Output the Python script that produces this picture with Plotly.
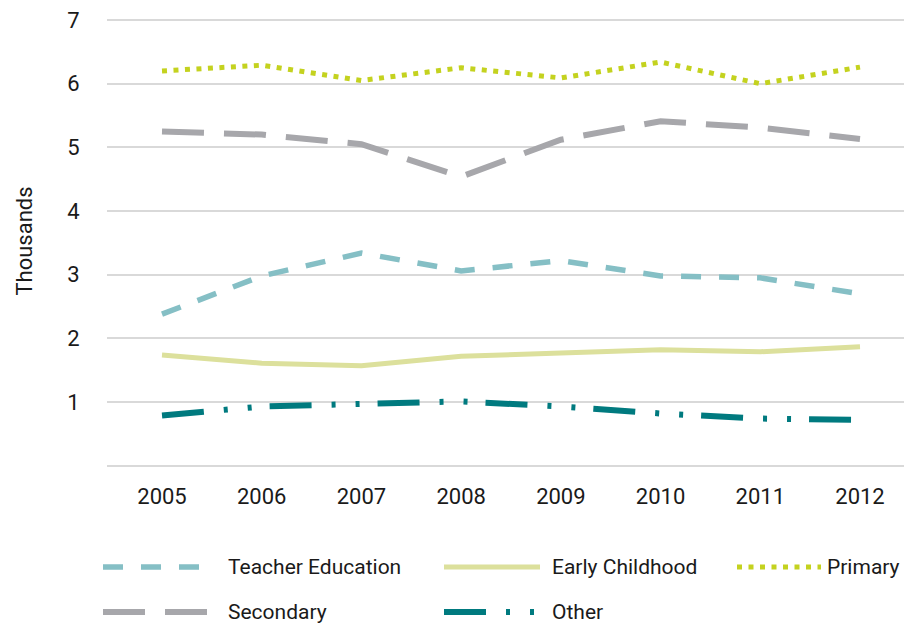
import plotly.graph_objects as go

years = [2005, 2006, 2007, 2008, 2009, 2010, 2011, 2012]
teacher_education = [2.38, 2.98, 3.34, 3.06, 3.22, 2.98, 2.95, 2.70]
early_childhood = [1.74, 1.61, 1.57, 1.72, 1.77, 1.82, 1.79, 1.87]
primary = [6.20, 6.29, 6.05, 6.25, 6.09, 6.34, 6.00, 6.26]
secondary = [5.25, 5.20, 5.05, 4.54, 5.12, 5.41, 5.31, 5.13]
other = [0.79, 0.93, 0.97, 1.01, 0.93, 0.82, 0.74, 0.72]

y_ticks = [0, 1, 2, 3, 4, 5, 6, 7]
y_labels = ["", "1", "2", "3", "4", "5", "6", "7"]
FONT = "Roboto, sans-serif"
FS = 22
LFS = 21

series = [
    ("Teacher Education", teacher_education, "#85BFC5", 5.5, "20px,18px"),
    ("Early Childhood", early_childhood, "#DCE09C", 5, "solid"),
    ("Primary", primary, "#C4D21F", 5, "5px,6.5px"),
    ("Secondary", secondary, "#A7A7AB", 6, "42px,20px"),
    ("Other", other, "#007A7F", 6, "42px,20px,4px,20px,4px,18px"),
]

fig = go.Figure()
for name, vals, color, w, dash in series:
    fig.add_trace(go.Scatter(x=years, y=vals, name=name, mode="lines",
                             line=dict(color=color, width=w, dash=dash),
                             showlegend=False))

# page has an 8px body margin; compensate
OFF = 8
W, H = 912 - 2 * OFF, 627 - OFF
PL, PR, PT, PB = 107, 904, 14, 468       # plot area in page pixels
Y7, Y0 = 20, 465.7                       # page y of 7 and 0
X05, X12 = 162, 860                      # page x of 2005 and 2012
UNIT = (Y0 - Y7) / 7.0
XU = (X12 - X05) / 7.0
yr = [-(PB - Y0) / UNIT, 7 + (Y7 - PT) / UNIT]
xr = [2005 - (X05 - PL) / XU, 2012 + (PR - X12) / XU]
L = PL - OFF
T = PT - OFF
R = (OFF + W) - PR
B = (OFF + H) - PB
pw, ph = PR - PL, PB - PT

def px(x):
    return (x - PL) / pw

def py(y):
    return (PB - y) / ph

legend_items = [
    (0, 103, 206, 226, 567),
    (1, 444, 540, 550, 567),
    (2, 737, 821, 825, 567),
    (3, 103, 212, 226, 612),
    (4, 444, 536, 550, 612),
]
for idx, x0, x1, tx, y in legend_items:
    name, vals, color, w, dash = series[idx]
    fig.add_shape(type="line", xref="paper", yref="paper",
                  x0=px(x0), x1=px(x1), y0=py(y), y1=py(y),
                  line=dict(color=color, width=w, dash=dash))
    fig.add_annotation(xref="paper", yref="paper", x=px(tx), y=py(y),
                       text=name, showarrow=False, xanchor="left", yanchor="middle",
                       font=dict(family=FONT, size=LFS, color="#1a1a1a"))

fig.update_layout(
    width=W, height=H,
    margin=dict(l=L, r=R, t=T, b=B, pad=0),
    paper_bgcolor="white", plot_bgcolor="white",
    font=dict(family=FONT, size=FS, color="#1a1a1a"),
    showlegend=False,
)
fig.update_xaxes(range=xr, tickvals=years, ticktext=[str(y) for y in years],
                 showgrid=False, zeroline=False, showline=False,
                 ticks="outside", ticklen=9, tickcolor="rgba(0,0,0,0)")
fig.update_yaxes(range=yr, tickvals=y_ticks, ticktext=y_labels,
                 showgrid=True, gridcolor="#D9D9D9", gridwidth=1.5,
                 zeroline=False, showline=False, ticklabeloverflow="allow",
                 ticks="outside", ticklen=22, tickcolor="rgba(0,0,0,0)",
                 title=dict(text="Thousands", standoff=28, font=dict(family=FONT, size=FS)))

fig.write_html("out.html")
